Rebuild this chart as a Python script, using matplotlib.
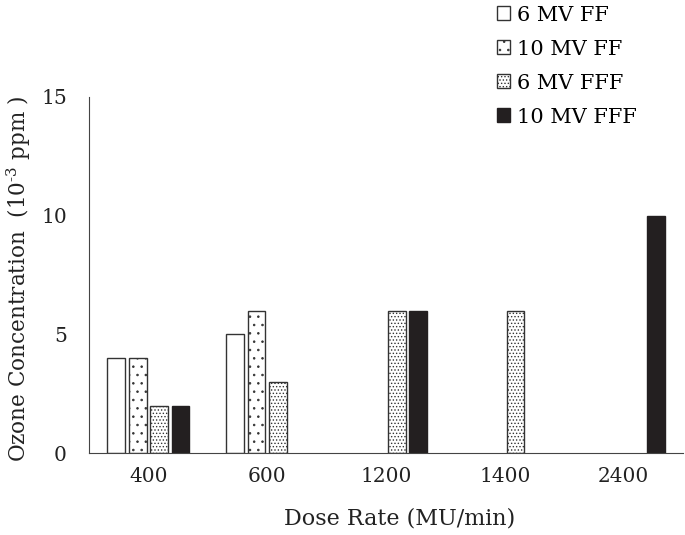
import matplotlib
matplotlib.use("Agg")
import matplotlib.pyplot as plt
import numpy as np

# -------------------- DATA --------------------
dose_rates = ["400", "600", "1200", "1400", "2400"]
series_names = ["6 MV FF", "10 MV FF", "6 MV FFF", "10 MV FFF"]
mv6_ff = [4, 5, 0, 0, 0]
mv10_ff = [4, 6, 0, 0, 0]
mv6_fff = [2, 3, 6, 6, 0]
mv10_fff = [2, 0, 6, 0, 10]
# ----------------------------------------------

plt.rcParams["font.family"] = ["DejaVu Serif"]
plt.rcParams["mathtext.fontset"] = "dejavuserif"
plt.rcParams["hatch.linewidth"] = 0.6

fig = plt.figure(figsize=(6.85, 5.35), dpi=100)
ax = fig.add_axes([0.13, 0.153, 0.867, 0.666])

x = np.arange(len(dose_rates))
width = 0.15
pitch = 0.18
styles = [
    dict(facecolor="white", edgecolor="#333333", hatch=None),
    dict(facecolor="white", edgecolor="#333333", hatch=".."),
    dict(facecolor="white", edgecolor="#333333", hatch="....."),
    dict(facecolor="#231f20", edgecolor="#231f20", hatch=None),
]
all_vals = [mv6_ff, mv10_ff, mv6_fff, mv10_fff]
for i, (vals, name, st) in enumerate(zip(all_vals, series_names, styles)):
    v = np.array(vals, dtype=float)
    keep = v > 0   # zero bars are not drawn in the reference
    ax.bar(x[keep] + (i - 1.5) * pitch, v[keep], width, label=name,
           linewidth=1.0, **st)

ax.set_xlim(-0.5, len(dose_rates) - 0.5)
ax.set_ylim(0, 15)
ax.set_yticks([0, 5, 10, 15])
ax.set_xticks(x)
ax.set_xticklabels(dose_rates)
ax.tick_params(length=0, labelsize=14.5, colors="#222222", pad=10)
ax.tick_params(axis="y", pad=16)
for s in ["top", "right"]:
    ax.spines[s].set_visible(False)
for s in ["left", "bottom"]:
    ax.spines[s].set_color("#444444")

ax.set_xlabel("Dose Rate (MU/min)", fontsize=16, color="#222222")
ax.xaxis.set_label_coords(0.523, -0.152)
ax.set_ylabel(r"Ozone Concentration  (10$^{\text{-3}}$ ppm )",
              fontsize=15.5, color="#222222")
ax.yaxis.set_label_coords(-0.094, 0.49)

fig.legend(loc="upper left", bbox_to_anchor=(0.713, 1.005), frameon=False,
           fontsize=15, handlelength=0.65, handleheight=0.65, handletextpad=0.3,
           labelspacing=0.72, borderaxespad=0)

fig.savefig("out.png", dpi=100)
